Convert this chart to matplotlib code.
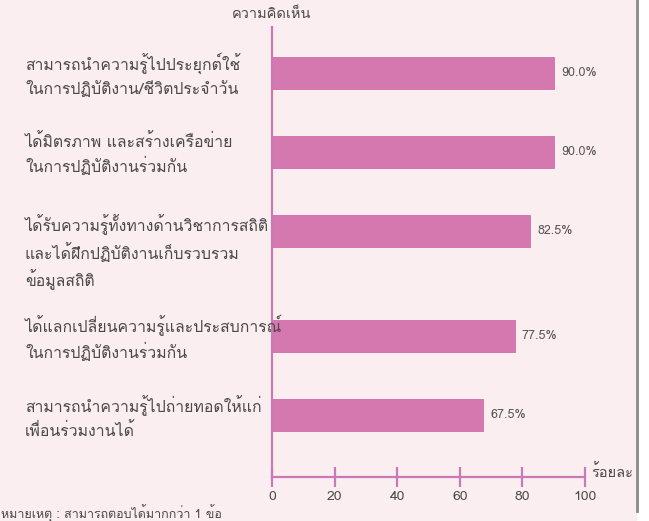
import numpy as np
import matplotlib
matplotlib.use("Agg")
import matplotlib.pyplot as plt
from matplotlib import font_manager as fm
from matplotlib.ft2font import FT2Font

# survey answers (percent), top to bottom
labels = [
    "สามารถนำความรู้ไปประยุกต์ใช้\nในการปฏิบัติงาน/ชีวิตประจำวัน",
    "ได้มิตรภาพ และสร้างเครือข่าย\nในการปฏิบัติงานร่วมกัน",
    "ได้รับความรู้ทั้งทางด้านวิชาการสถิติ\nและได้ฝึกปฏิบัติงานเก็บรวบรวม\nข้อมูลสถิติ",
    "ได้แลกเปลี่ยนความรู้และประสบการณ์\nในการปฏิบัติงานร่วมกัน",
    "สามารถนำความรู้ไปถ่ายทอดให้แก่\nเพื่อนร่วมงานได้",
]
values = [90.0, 90.0, 82.5, 77.5, 67.5]
xticks = [0, 20, 40, 60, 80, 100]

title = "ความคิดเห็น"
xunit = "ร้อยละ"
note = "หมายเหตุ : สามารถตอบได้มากกว่า 1 ข้อ"

bar_color = "#D678B0"
axis_color = "#C97AB6"
text_color = "#4a4a4a"
bg_color = "#FBEEF0"


def thai_font():
    # first installed family that actually has Thai glyphs
    for f in fm.fontManager.ttflist:
        try:
            if 0x0E01 in FT2Font(f.fname).get_charmap():
                return f.name
        except Exception:
            pass
    return "DejaVu Sans"


plt.rcParams['font.family'] = [thai_font(), 'DejaVu Sans']

# rows with an extra line of text get a bit more room below
pos = [0.0]
for i in range(1, len(labels)):
    extra = labels[i - 1].count("\n") - 1
    pos.append(pos[-1] + 1 + 0.33 * extra)
pos = np.array(pos)

fig = plt.figure(figsize=(6.49, 5.21), dpi=100)
fig.patch.set_facecolor("white")
# page background with its right edge
fig.patches.append(plt.Rectangle((0, 0), 637 / 649, 1, transform=fig.transFigure,
                                 facecolor=bg_color, edgecolor="none", zorder=-5))
fig.lines.append(plt.Line2D([637 / 649, 637 / 649], [0.02, 1], transform=fig.transFigure,
                            color="#8a8a8a", lw=2, zorder=-4))

ax = fig.add_axes([272 / 649, 1 - 477 / 521, 313 / 649, 450 / 521])
ax.set_facecolor("none")
ax.barh(pos, values, height=0.41, color=bar_color, edgecolor="#cf6fa8", lw=0.6)
ax.set_xlim(0, 100)
ax.set_ylim(5.114, -0.582)

for p, v in zip(pos, values):
    ax.text(v + 2.3, p, "%.1f%%" % v, va="center", ha="left", fontsize=9,
            color="#555555", clip_on=False)

for s in ["top", "right"]:
    ax.spines[s].set_visible(False)
for s in ["left", "bottom"]:
    ax.spines[s].set_color(axis_color)
    ax.spines[s].set_linewidth(1.6)

ax.set_yticks([])
ax.set_xticks(xticks)
ax.tick_params(axis="x", direction="inout", length=14, width=1.6, color=axis_color,
               labelsize=10, labelcolor=text_color, pad=3)

# category labels, left aligned; a third line hangs below the bar
for p, lab in zip(pos, labels):
    n = lab.count("\n") + 1
    y = p + (2 + (n - 2) * 19) / 79
    fig_y = ax.transData.transform((0, y))[1]
    fig.text(25 / 649, fig_y / 521, lab, ha="left", va="center", fontsize=11.4,
             color=text_color, linespacing=1.4)

fig.text(272 / 649, 1 - 14 / 521, title, ha="center", va="center", fontsize=10.5,
         color=text_color)
fig.text(591 / 649, 1 - 472 / 521, xunit, ha="left", va="center", fontsize=10.5,
         color=text_color)
fig.text(1 / 649, 1 - 513 / 521, note, ha="left", va="center", fontsize=9,
         color=text_color)

fig.savefig("out.png", dpi=100, facecolor=fig.get_facecolor())
